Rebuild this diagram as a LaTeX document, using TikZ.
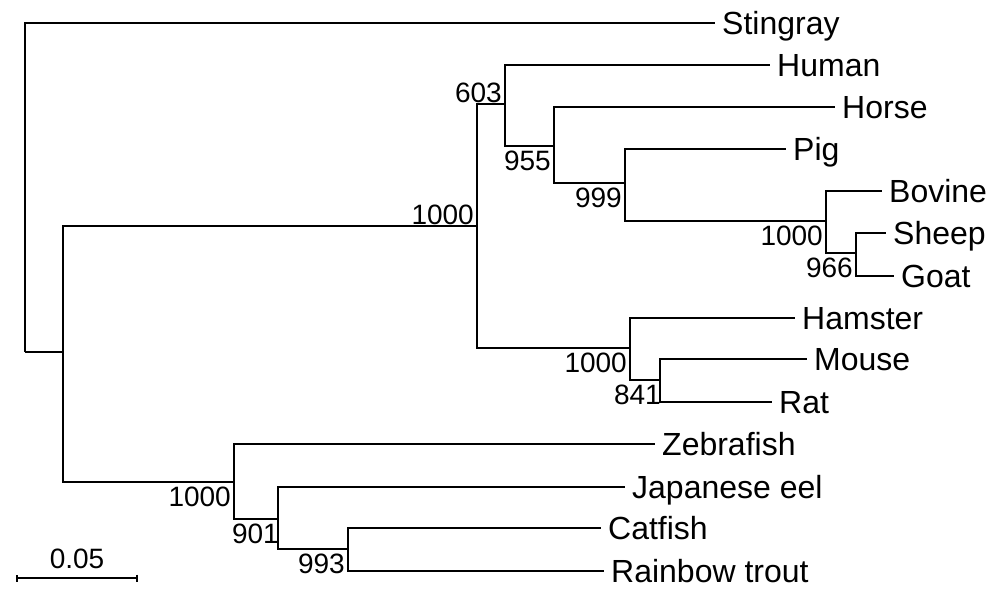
\documentclass[tikz,border=0pt]{standalone}
\usepackage{fontspec}
\setmainfont{Liberation Sans}
\usetikzlibrary{arrows.meta,calc}

\begin{document}
\begin{tikzpicture}[x=1pt, y=-1pt,
		branch/.style={line width=2pt},
		taxon/.style={anchor=base west, inner sep=0pt, xshift=7pt, yshift=-11pt, font=\fontsize{32}{38}\selectfont},
		bootbelow/.style={anchor=base east, inner sep=0pt, xshift=-3pt, yshift=-24.5pt, font=\fontsize{28}{34}\selectfont},
		bootabove/.style={anchor=base east, inner sep=0pt, xshift=-3pt, yshift=2pt, font=\fontsize{28}{34}\selectfont}]
		\useasboundingbox (0, 0) rectangle (997, 590);
		%%%%% START %%%%%
		\coordinate (root) at (25, 352);
		\coordinate (vert) at (63, 352);
		\coordinate (mammal) at (477, 226);
		\coordinate (n603) at (505, 104);
		\coordinate (n955) at (554, 146);
		\coordinate (n999) at (625, 183);
		\coordinate (bovid) at (826, 221);
		\coordinate (n966) at (856, 253);
		\coordinate (rodent) at (630, 348);
		\coordinate (n841) at (660, 380);
		\coordinate (fish) at (234, 482);
		\coordinate (n901) at (278, 519);
		\coordinate (n993) at (348, 549);
		
		\coordinate (t-stingray) at (715, 23);
		\coordinate (t-human) at (770, 65);
		\coordinate (t-horse) at (835, 107);
		\coordinate (t-pig) at (786, 149);
		\coordinate (t-bovine) at (882, 191);
		\coordinate (t-sheep) at (886, 233);
		\coordinate (t-goat) at (894, 276);
		\coordinate (t-hamster) at (795, 318);
		\coordinate (t-mouse) at (807, 359);
		\coordinate (t-rat) at (772, 402);
		\coordinate (t-zebrafish) at (655, 444);
		\coordinate (t-eel) at (625, 487);
		\coordinate (t-catfish) at (601, 528);
		\coordinate (t-trout) at (604, 571);
		
		\node[taxon] (stingray) at (t-stingray) {Stingray};
		\node[taxon] (human) at (t-human) {Human};
		\node[taxon] (horse) at (t-horse) {Horse};
		\node[taxon] (pig) at (t-pig) {Pig};
		\node[taxon] (bovine) at (t-bovine) {Bovine};
		\node[taxon] (sheep) at (t-sheep) {Sheep};
		\node[taxon] (goat) at (t-goat) {Goat};
		\node[taxon] (hamster) at (t-hamster) {Hamster};
		\node[taxon] (mouse) at (t-mouse) {Mouse};
		\node[taxon] (rat) at (t-rat) {Rat};
		\node[taxon] (zebrafish) at (t-zebrafish) {Zebrafish};
		\node[taxon] (eel) at (t-eel) {Japanese eel};
		\node[taxon] (catfish) at (t-catfish) {Catfish};
		\node[taxon] (trout) at (t-trout) {Rainbow trout};
		
		\draw[branch] (root) |- (t-stingray);
		\draw[branch] (root) |- (vert);
		\draw[branch] (vert) |- (mammal);
		\draw[branch] (vert) |- (fish);
		
		\draw[branch] (mammal) |- (n603);
		\draw[branch] (mammal) |- (rodent);
		\draw[branch] (n603) |- (t-human);
		\draw[branch] (n603) |- (n955);
		\draw[branch] (n955) |- (t-horse);
		\draw[branch] (n955) |- (n999);
		\draw[branch] (n999) |- (t-pig);
		\draw[branch] (n999) |- (bovid);
		\draw[branch] (bovid) |- (t-bovine);
		\draw[branch] (bovid) |- (n966);
		\draw[branch] (n966) |- (t-sheep);
		\draw[branch] (n966) |- (t-goat);
		
		\draw[branch] (rodent) |- (t-hamster);
		\draw[branch] (rodent) |- (n841);
		\draw[branch] (n841) |- (t-mouse);
		\draw[branch] (n841) |- (t-rat);
		
		\draw[branch] (fish) |- (t-zebrafish);
		\draw[branch] (fish) |- (n901);
		\draw[branch] (n901) |- (t-eel);
		\draw[branch] (n901) |- (n993);
		\draw[branch] (n993) |- (t-catfish);
		\draw[branch] (n993) |- (t-trout);
		
		\node[bootabove] (b603) at (n603) {603};
		\node[bootabove] (bmammal) at (mammal) {1000};
		\node[bootbelow] (b955) at (n955) {955};
		\node[bootbelow] (b999) at (n999) {999};
		\node[bootbelow] (bbovid) at (bovid) {1000};
		\node[bootbelow] (b966) at (n966) {966};
		\node[bootbelow] (brodent) at (rodent) {1000};
		\node[bootbelow, xshift=4pt] (b841) at (n841) {841};
		\node[bootbelow] (bfish) at (fish) {1000};
		\node[bootbelow, xshift=4pt] (b901) at (n901) {901};
		\node[bootbelow] (b993) at (n993) {993};
		
		\coordinate (sb-l) at (16, 578);
		\coordinate (sb-r) at (138, 578);
		\draw[branch, {Bar[width=7pt]}-{Bar[width=7pt]}] (sb-l) -- (sb-r);
		\node[anchor=base, inner sep=0pt, yshift=10pt, font=\fontsize{28}{34}\selectfont] (sb-lbl) at ($(sb-l)!0.5!(sb-r)$) {0.05};
		%%%%% END %%%%%
\end{tikzpicture}
\end{document}
